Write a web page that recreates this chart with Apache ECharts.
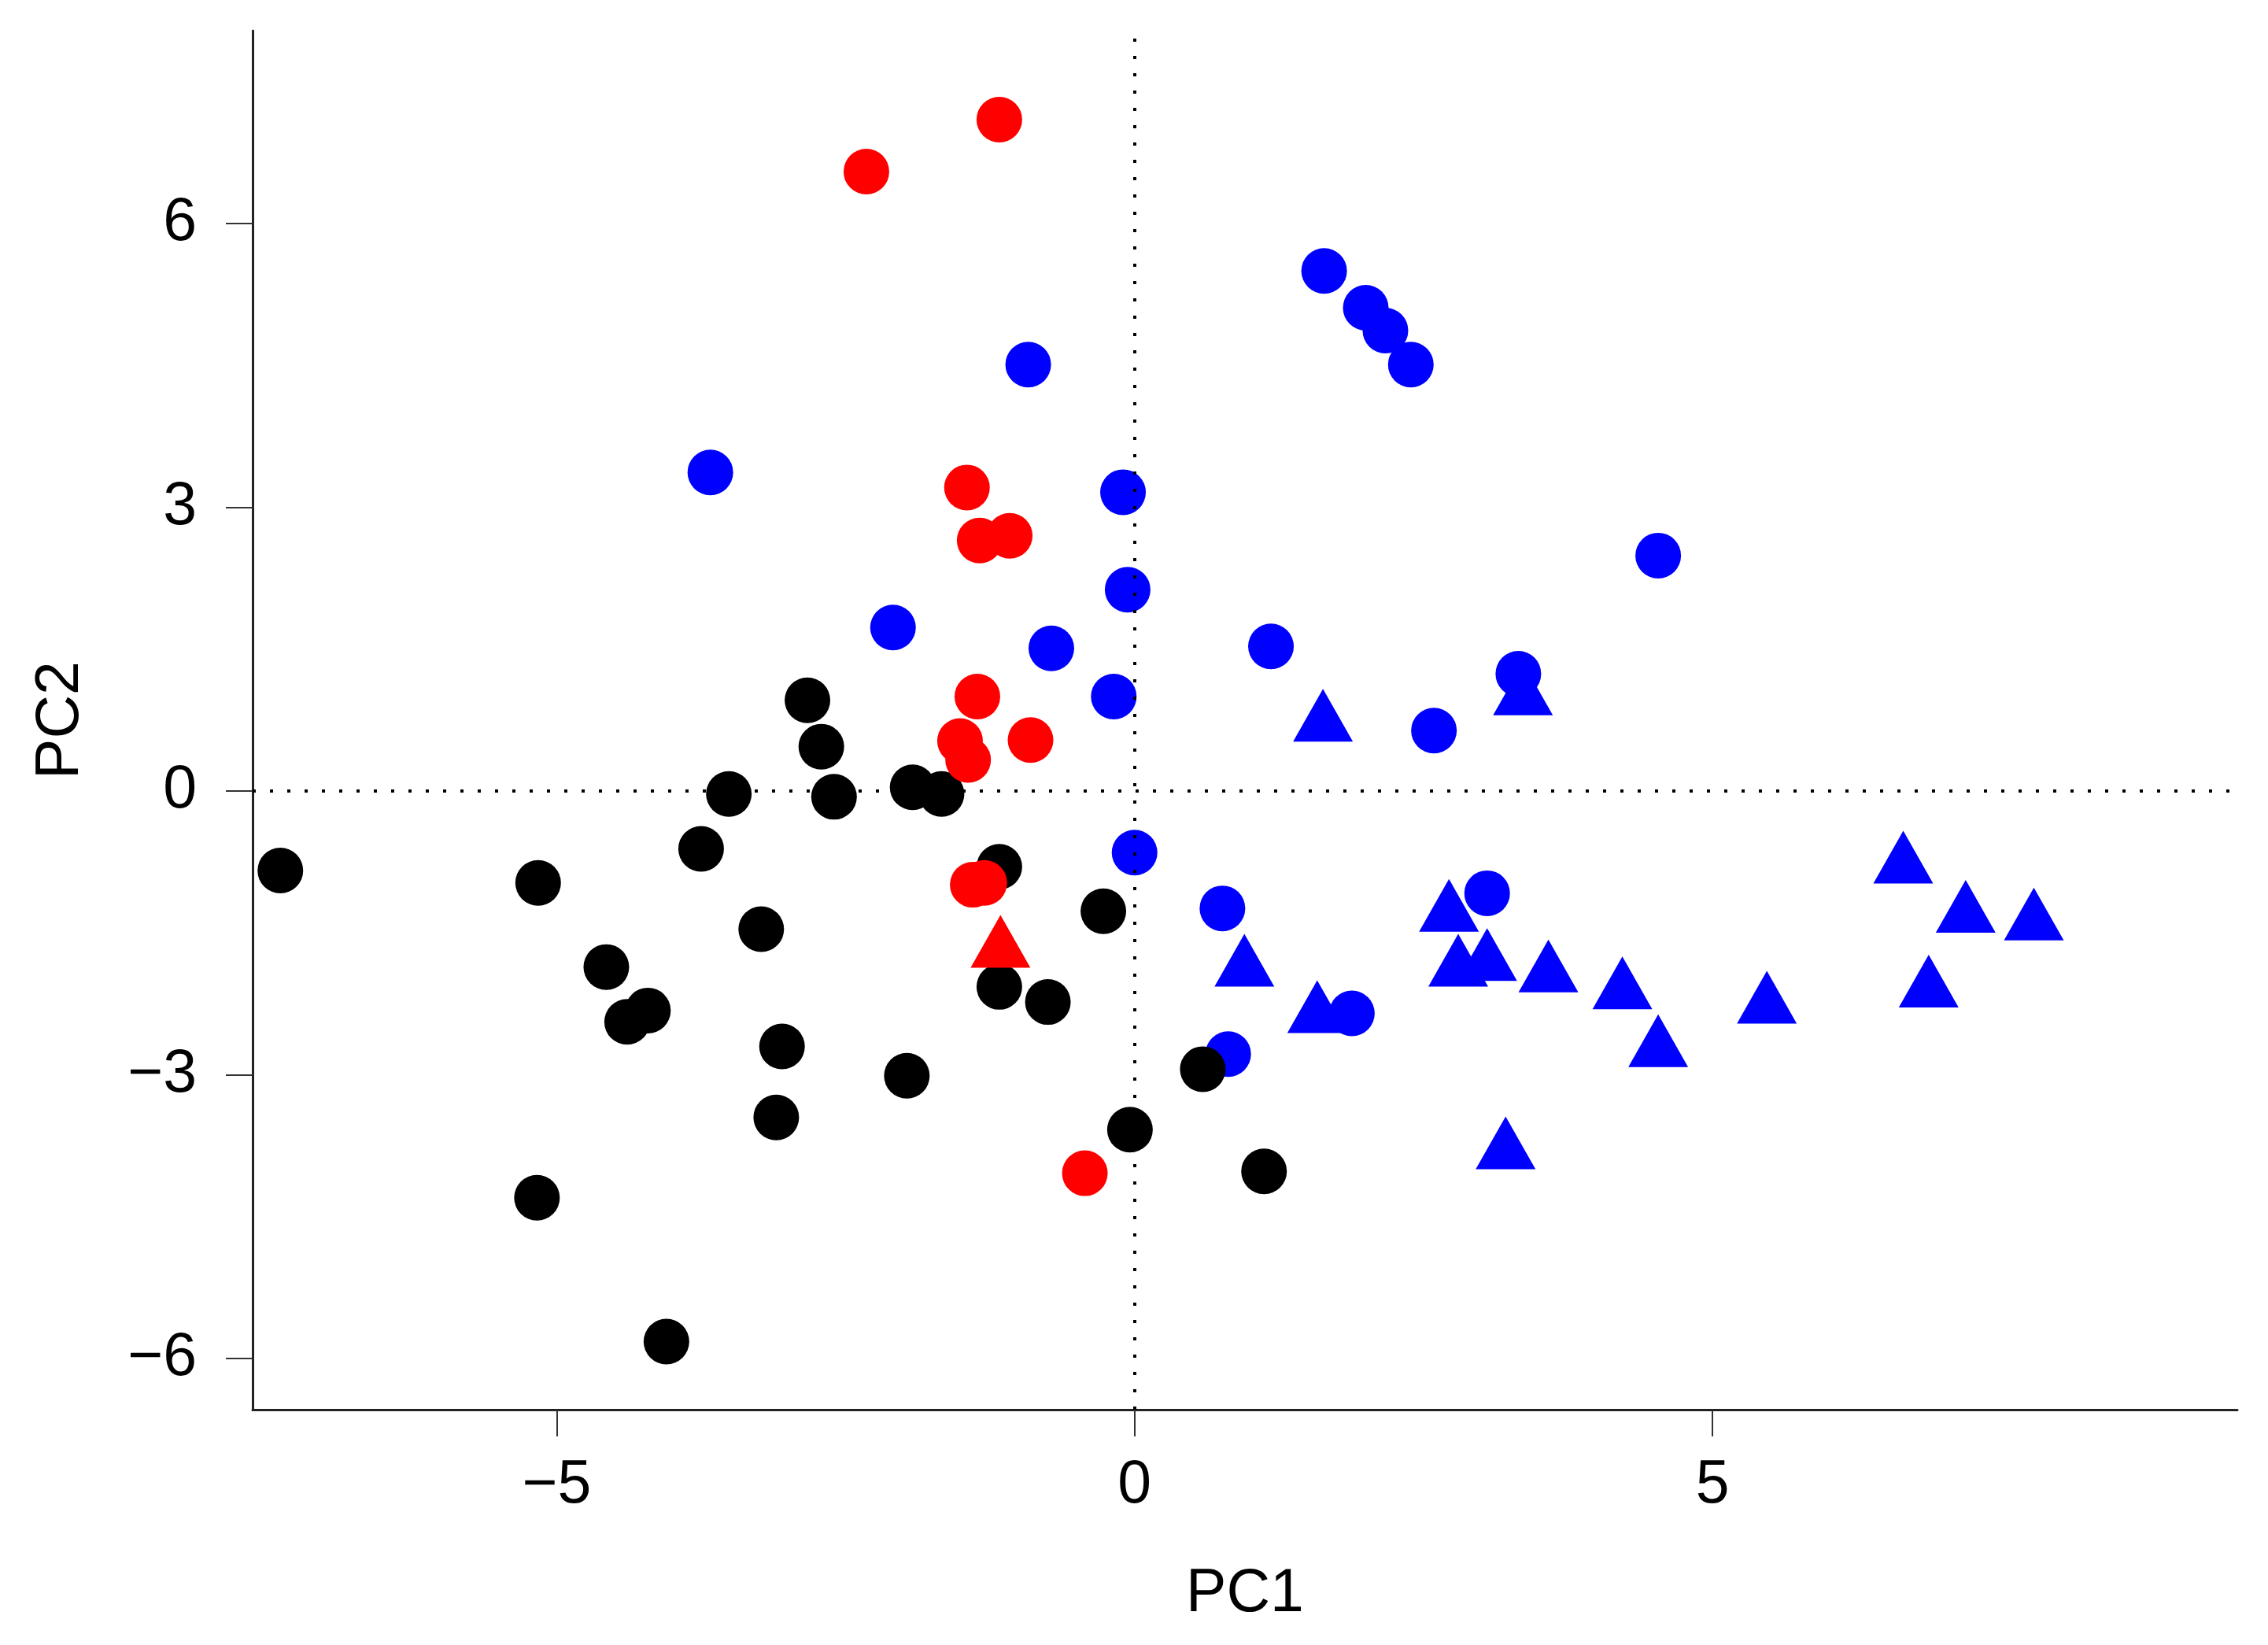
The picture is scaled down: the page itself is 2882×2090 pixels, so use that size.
<!DOCTYPE html>
<html>
<head>
<meta charset="utf-8">
<script src="https://cdn.jsdelivr.net/npm/echarts@6/dist/echarts.min.js"></script>
<style>
  html, body { margin: 0; padding: 0; background: #fff; }
  #chart { width: 2882px; height: 2090px; }
</style>
</head>
<body>
<div id="chart"></div>
<script>
// PC1 / PC2 scores per group, [x, y]
var blackCircles = [
  [-7.39, -0.84], [-5.16, -0.97], [-5.17, -4.30], [-4.05, -5.82], [-4.57, -1.86],
  [-4.39, -2.44], [-4.21, -2.32], [-3.75, -0.61], [-3.51, -0.03], [-3.23, -1.46],
  [-3.05, -2.70], [-3.10, -3.45], [-2.83, 0.96], [-2.71, 0.47], [-2.60, -0.06],
  [-1.92, 0.04], [-1.67, -0.03], [-1.97, -3.01], [-1.17, -0.80], [-1.17, -2.07],
  [-0.75, -2.23], [-0.27, -1.27], [-0.04, -3.58], [0.59, -2.94], [1.12, -4.02]
];
var redCircles = [
  [-1.17, 7.10], [-2.32, 6.55], [-1.45, 3.21], [-1.34, 2.65], [-1.08, 2.70],
  [-1.36, 1.00], [-1.51, 0.53], [-1.44, 0.33], [-0.90, 0.54], [-1.40, -0.99],
  [-1.30, -0.97], [-0.43, -4.04]
];
var redTriangles = [
  [-1.16, -1.68]
];
var blueCircles = [
  [-3.67, 3.37], [-0.92, 4.51], [-0.10, 3.16], [-0.06, 2.13], [-2.09, 1.73],
  [-0.72, 1.51], [-0.18, 1.00], [0.00, -0.65], [1.64, 5.50], [2.00, 5.11],
  [2.17, 4.87], [2.39, 4.51], [4.53, 2.49], [1.18, 1.53], [3.32, 1.24],
  [2.59, 0.64], [3.05, -1.08], [0.76, -1.24], [1.88, -2.35], [0.81, -2.78]
];
var blueTriangles = [
  [1.63, 0.71], [3.36, 0.99], [6.65, -0.79], [7.19, -1.31], [7.78, -1.39],
  [2.72, -1.30], [2.80, -1.88], [3.05, -1.82], [0.95, -1.88], [3.58, -1.94],
  [4.22, -2.12], [6.87, -2.10], [5.47, -2.27], [4.53, -2.73], [1.58, -2.37],
  [3.21, -3.81]
];
var xTicks = [-5, 0, 5];
var yTicks = [-6, -3, 0, 3, 6];

var font = '"Liberation Sans", Arial, sans-serif';
var circleSize = 58;
var triSize = [76, 67];
// R puts the point at the triangle centroid, not at the box middle
var triOffset = [0, -11];

function fmt(v) {
  return String(v).replace('-', '\u2212');
}

function valueAxis(min, max, ticks, extra) {
  var ax = {
    type: 'value',
    min: min,
    max: max,
    nameLocation: 'middle',
    nameTextStyle: { fontFamily: font, fontSize: 77, color: '#000' },
    axisLine: { show: true, onZero: false, lineStyle: { color: '#222', width: 3 } },
    axisTick: { show: true, customValues: ticks, length: 34, lineStyle: { color: '#333', width: 2 } },
    axisLabel: {
      customValues: ticks,
      fontFamily: font, fontSize: 77, color: '#000',
      formatter: fmt
    },
    splitLine: { show: false }
  };
  for (var k in extra) {
    if (typeof extra[k] === 'object') Object.assign(ax[k] = ax[k] || {}, extra[k]);
    else ax[k] = extra[k];
  }
  return ax;
}

var myChart = echarts.init(document.getElementById('chart'), null, { renderer: 'canvas' });
var option = {
  backgroundColor: '#fff',
  animation: false,
  grid: { left: 321, top: 39, width: 2522, height: 1752, outerBoundsMode: 'none' },
  xAxis: valueAxis(-7.63, 9.54, xTicks, { name: 'PC1', nameGap: 196, axisLabel: { margin: 58 } }),
  yAxis: valueAxis(-6.54, 8.04, yTicks, { name: 'PC2', nameGap: 205, axisLabel: { margin: 71 } }),
  series: [
    { name: 'blue tri', type: 'scatter', data: blueTriangles, symbol: 'triangle', symbolSize: triSize, symbolOffset: triOffset, itemStyle: { color: '#0000FF', opacity: 1 } },
    { name: 'blue', type: 'scatter', data: blueCircles, symbol: 'circle', symbolSize: circleSize, itemStyle: { color: '#0000FF', opacity: 1 } },
    { name: 'black', type: 'scatter', data: blackCircles, symbol: 'circle', symbolSize: circleSize, itemStyle: { color: '#000000', opacity: 1 } },
    { name: 'red', type: 'scatter', data: redCircles, symbol: 'circle', symbolSize: circleSize, itemStyle: { color: '#FF0000', opacity: 1 } },
    { name: 'red tri', type: 'scatter', data: redTriangles, symbol: 'triangle', symbolSize: triSize, symbolOffset: triOffset, itemStyle: { color: '#FF0000', opacity: 1 } },
    {
      // dotted reference lines at 0, drawn over the points
      name: 'ref', type: 'scatter', data: [], z: 10,
      markLine: {
        silent: true,
        symbol: 'none',
        label: { show: false },
        lineStyle: { color: '#000', width: 4, type: [4, 18], cap: 'butt' },
        data: [{ xAxis: 0 }, { yAxis: 0 }]
      }
    }
  ]
};
option && myChart.setOption(option);
</script>
</body>
</html>
